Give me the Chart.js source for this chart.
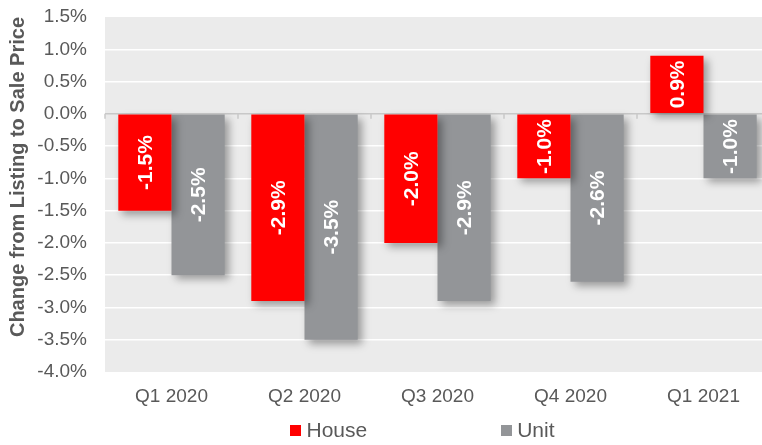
<!DOCTYPE html>
<html>
<head>
<meta charset="utf-8">
<script src="https://cdn.jsdelivr.net/npm/chart.js@4"></script>
<style>
  html, body { margin: 0; padding: 0; background: #fff; overflow: hidden; }
  #wrap { position: relative; width: 770px; height: 445px; }
  #legend { position: absolute; left: 0; top: 418px; width: 845px; display: flex; justify-content: center; gap: 134px;
    font-family: "Liberation Sans", Arial, sans-serif; font-size: 21px; line-height: 24px; color: #595959; }
  #legend .item { display: flex; align-items: center; }
  #legend .box { display: inline-block; width: 11px; height: 11px; margin-right: 5px; }
</style>
</head>
<body>
<div id="wrap">
  <canvas id="chart" width="770" height="445"></canvas>
  <div id="legend"></div>
</div>
<script>
// 분기별 호가 대비 매매가 변동률 (%)
var quarters = ['Q1 2020', 'Q2 2020', 'Q3 2020', 'Q4 2020', 'Q1 2021'];
var houseValues = [-1.5, -2.9, -2.0, -1.0, 0.9];
var unitValues = [-2.5, -3.5, -2.9, -2.6, -1.0];
var seriesNames = ['House', 'Unit'];
var seriesColors = ['#ff0000', '#939598'];
var yMin = -4.0, yMax = 1.5, yStep = 0.5;

var FONT = '"Liberation Sans", Arial, sans-serif';
var TEXT_GRAY = '#595959';

// 플롯 영역 배경 + 0선 눈금 + 막대 그림자
var plotBackground = {
  id: 'plotBackground',
  beforeDraw: function (chart) {
    var a = chart.chartArea, ctx = chart.ctx;
    ctx.save();
    ctx.fillStyle = '#ebebeb';
    ctx.fillRect(a.left, a.top, a.right - a.left, a.bottom - a.top);
    ctx.restore();
  },
  beforeDatasetsDraw: function (chart) {
    var ctx = chart.ctx, x = chart.scales.x, y0 = chart.scales.y.getPixelForValue(0);
    var half = (x.getPixelForValue(1) - x.getPixelForValue(0)) / 2;
    ctx.save();
    ctx.strokeStyle = '#c8c8c8';
    ctx.lineWidth = 1.5;
    for (var i = 0; i <= quarters.length; i++) {
      var px = i < quarters.length ? x.getPixelForValue(i) - half : x.getPixelForValue(i - 1) + half;
      ctx.beginPath();
      ctx.moveTo(px, y0);
      ctx.lineTo(px, y0 + 5);
      ctx.stroke();
    }
    ctx.restore();
    ctx.save();
    ctx.shadowColor = 'rgba(0,0,0,0.35)';
    ctx.shadowBlur = 8;
    ctx.shadowOffsetX = 4;
    ctx.shadowOffsetY = 4;
  },
  afterDatasetsDraw: function (chart) {
    chart.ctx.restore();
  }
};

// 막대 안 세로 값 라벨
var barLabels = {
  id: 'barLabels',
  afterDatasetsDraw: function (chart) {
    var ctx = chart.ctx;
    chart.data.datasets.forEach(function (ds, di) {
      var meta = chart.getDatasetMeta(di);
      meta.data.forEach(function (bar, i) {
        var cy = (bar.y + bar.base) / 2;
        ctx.save();
        ctx.translate(bar.x, cy);
        ctx.rotate(-Math.PI / 2);
        ctx.fillStyle = '#ffffff';
        ctx.font = 'bold 21px ' + FONT;
        ctx.textAlign = 'center';
        ctx.textBaseline = 'middle';
        ctx.fillText(ds.data[i].toFixed(1) + '%', 0, 1);
        ctx.restore();
      });
    });
  }
};

var chart = new Chart(document.getElementById('chart').getContext('2d'), {
  type: 'bar',
  data: {
    labels: quarters,
    datasets: [
      { label: seriesNames[0], data: houseValues, backgroundColor: seriesColors[0] },
      { label: seriesNames[1], data: unitValues, backgroundColor: seriesColors[1] }
    ]
  },
  options: {
    responsive: false,
    animation: false,
    categoryPercentage: 0.8,
    barPercentage: 1.0,
    layout: { padding: { top: 17, right: 0, bottom: 28, left: 0 } },
    plugins: {
      legend: { display: false },
      tooltip: { enabled: false }
    },
    scales: {
      x: {
        grid: { display: false, drawTicks: false },
        border: { display: false },
        ticks: { color: TEXT_GRAY, font: { family: FONT, size: 19 }, padding: 13 },
        afterFit: function (s) { s.height = 45; }
      },
      y: {
        min: yMin, max: yMax,
        grid: {
          drawTicks: false,
          lineWidth: 1.5,
          color: function (c) {
            if (c.tick && c.tick.value === 0) return '#c8c8c8';
            if (c.tick && (c.tick.value === yMin || c.tick.value === yMax)) return 'rgba(0,0,0,0)';
            return '#ffffff';
          }
        },
        border: { display: false },
        ticks: {
          stepSize: yStep,
          color: TEXT_GRAY,
          padding: 18,
          font: { family: FONT, size: 19 },
          callback: function (v) { return v.toFixed(1) + '%'; }
        },
        title: {
          display: true,
          text: 'Change from Listing to Sale Price',
          align: 'end',
          color: TEXT_GRAY,
          font: { family: FONT, size: 20, weight: 'bold' },
          padding: { top: 6, bottom: 0 }
        },
        afterFit: function (s) {
          s.width = 105;
          s.paddingTop = 0;
          s.paddingBottom = 0;
        }
      }
    }
  },
  plugins: [plotBackground, barLabels]
});

// 범례 (데이터셋에서 생성)
document.getElementById('legend').innerHTML = chart.data.datasets.map(function (ds) {
  return '<span class="item"><span class="box" style="background:' + ds.backgroundColor + '"></span>' + ds.label + '</span>';
}).join('');
</script>
</body>
</html>
